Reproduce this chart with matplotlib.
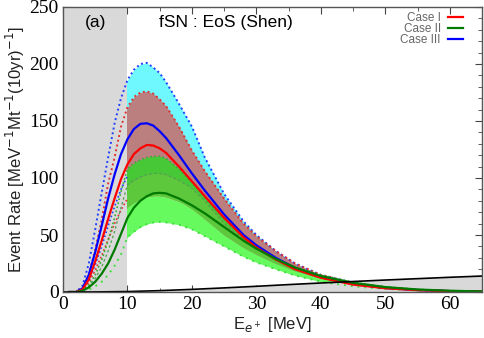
import numpy as np
import matplotlib
matplotlib.use("Agg")
import matplotlib.pyplot as plt
from matplotlib.ticker import MultipleLocator

# ---- data ----
E = [1, 2, 3, 4, 5, 6, 7, 8, 9, 10, 11, 12, 13, 14, 15, 16, 18, 20, 22, 25, 28,
     30, 33, 36, 40, 45, 50, 55, 60, 65]

case1 = [0, 0, 2, 11, 27, 45, 64, 82, 99, 112, 121, 126, 129, 128.5, 126, 122, 110, 97, 84, 65, 48,
         39, 28.5, 20, 12.5, 6.5, 3.3, 1.6, 0.8, 0.4]
case2 = [0, 0, 1, 4, 9, 16, 25, 37, 51, 65, 74, 80, 84, 86.5, 87, 86.5, 82, 76, 69, 57, 45,
         38, 29, 21.5, 14, 8, 4.3, 2.2, 1.1, 0.5]
case3 = [0, 0, 3, 15, 35, 58, 82, 103, 121, 134, 143, 147.5, 148, 146, 141, 135, 120, 104, 89, 68, 50,
         41, 30, 21, 13, 7, 3.5, 1.7, 0.8, 0.4]

case3_hi = [0, 0, 5, 25, 55, 87, 118, 148, 170, 186, 195, 200, 201, 197, 192, 184, 165, 145, 118, 86, 62,
            50, 36, 25, 15, 8, 4, 1.8, 0.8, 0.4]
case3_lo = [0, 0, 2, 10, 24, 40, 58, 75, 90, 102, 108, 111, 112, 111, 108, 104, 93, 82, 71, 55, 41,
            34, 25, 18, 11.5, 6.5, 3.3, 1.6, 0.8, 0.4]
case1_hi = [0, 0, 3, 15, 37, 63, 95, 118, 145, 162, 171, 175, 176, 174, 169, 163, 145, 124, 106, 82, 60,
            49, 36, 25, 15, 7.8, 3.9, 1.8, 0.8, 0.4]
case1_lo = [0, 0, 1.5, 8, 19, 32, 46, 60, 72, 82, 88, 92, 94, 94, 92, 89, 81, 72, 63, 49, 37,
            30, 22, 16, 10, 5.5, 2.8, 1.4, 0.7, 0.35]

case2_hi = [0, 0, 1, 6, 15, 28, 45, 65, 88, 108, 113, 116, 118, 119, 119, 117, 108, 96, 83, 64, 47.5,
            39, 29, 21.5, 15, 8.5, 4.5, 2.3, 1.2, 0.6]
case2_mid_hi = [0, 0, 1, 5, 12, 22, 36, 53, 74, 94, 98, 101, 103, 104, 104, 103, 98, 91, 80, 60, 46,
                38, 28.5, 21, 14.5, 8.3, 4.4, 2.3, 1.1, 0.55]
case2_mid_lo = [0, 0, 0.8, 4, 10, 18, 28, 41, 56, 74, 78, 81, 83, 84, 84, 83, 79, 73, 64, 50, 39,
                33, 25, 18.5, 12, 7, 3.8, 2.0, 1.0, 0.45]
case2_lo = [0, 0, 0.5, 2, 5, 9, 15, 23, 33, 48, 53, 57, 59.5, 61, 61.5, 61, 59, 55, 49, 40, 31,
            26, 20, 14.5, 9, 5, 2.8, 1.4, 0.7, 0.3]

bkg_E = [0, 5, 10, 15, 20, 25, 30, 35, 40, 45, 50, 55, 60, 65]
bkg = [0, 0.05, 0.4, 1.2, 2.3, 3.6, 5.0, 6.5, 7.9, 9.2, 10.5, 11.7, 12.9, 14.0]

legend_labels = ["Case I", "Case II", "Case III"]
title_text = "fSN : EoS (Shen)"
panel_text = "(a)"

# ---- figure ----
fig = plt.figure(figsize=(4.85, 3.38), dpi=100)
ax = fig.add_axes([63/485, 1-292/338, (482-63)/485, (292-7)/338])

E = np.array(E)
gray = "#d9d9d9"
low = E <= 10  # lower band edges only visible inside the shaded region

# bands
ax.fill_between(E, case3_lo, case3_hi, color="#70f8ff", lw=0, zorder=1)
ax.fill_between(E, case1_lo, case1_hi, color="#bb7f7f", lw=0, zorder=1.1)
ax.fill_between(E, case2_lo, case2_mid_lo, color="#66fa5f", lw=0, zorder=1.2)
ax.fill_between(E, case2_mid_lo, case2_mid_hi, color="#5ec83c", lw=0, zorder=1.3)
ax.fill_between(E, case2_mid_hi, case2_hi, color="#47c837", lw=0, zorder=1.4)

# shaded low-energy region
ax.axvspan(0, 10, color=gray, lw=0, zorder=2)
# background
ax.fill_between(bkg_E, 0, bkg, color=gray, lw=0, zorder=2)

# band edges
dot = (0, (1, 1.5))
ax.plot(E, case3_hi, color="#2040ff", ls=dot, lw=1.4, zorder=3)
ax.plot(E[low], np.array(case3_lo)[low], color="#2040ff", ls=dot, lw=1.2, zorder=3)
ax.plot(E, case1_hi, color="#e03030", ls=dot, lw=1.4, zorder=3)
ax.plot(E[low], np.array(case1_lo)[low], color="#e03030", ls=dot, lw=1.2, zorder=3)
ax.plot(E, case2_hi, color="#30b030", ls=dot, lw=1.2, zorder=3)
ax.plot(E, case2_mid_hi, color="#50a050", ls=(0, (2, 2)), lw=0.9, zorder=3)
ax.plot(E, case2_lo, color="#40e040", ls=(0, (1, 2.5)), lw=1.4, zorder=3)

# central lines
l3, = ax.plot(E, case3, color="#0000ff", lw=1.6, zorder=4)
l1, = ax.plot(E, case1, color="#ff0000", lw=1.6, zorder=4.1)
l2, = ax.plot(E, case2, color="#007a00", lw=1.6, zorder=4.2)
ax.plot(bkg_E, bkg, color="black", lw=1.2, zorder=4.5)

ax.set_xlim(0, 65)
ax.set_ylim(0, 250)

ax.xaxis.set_major_locator(MultipleLocator(10))
ax.xaxis.set_minor_locator(MultipleLocator(5))
ax.yaxis.set_major_locator(MultipleLocator(50))
ax.yaxis.set_minor_locator(MultipleLocator(10))
ax.tick_params(which="both", direction="in", top=True, right=True, color="#444444")
ax.tick_params(which="major", length=5, width=0.8)
ax.tick_params(which="minor", length=3, width=0.6)
for lab in ax.get_xticklabels() + ax.get_yticklabels():
    lab.set_fontfamily("Liberation Serif")
    lab.set_fontsize(14)
ax.tick_params(axis="x", pad=3)
ax.tick_params(axis="y", pad=3)
for s in ax.spines.values():
    s.set_color("#555555")
    s.set_linewidth(1.0)
    s.set_zorder(6)

ax.set_ylabel("Event Rate [MeV$^{-1}$Mt$^{-1}$(10yr)$^{-1}$]", fontsize=12,
              fontfamily="Liberation Sans", color="#222222", labelpad=2)
ax.set_xlabel("E$_{e^+}$ [MeV]", fontsize=12, fontfamily="Liberation Sans",
              color="#222222", labelpad=1)

ax.text(5, 236, panel_text, fontsize=12.5, fontfamily="Liberation Sans",
        ha="center", va="center", zorder=7)
ax.text(25.3, 236, title_text, fontsize=12.5, fontfamily="Liberation Sans",
        ha="center", va="center", zorder=7)

leg = ax.legend([l1, l2, l3], legend_labels, loc="upper right", markerfirst=False,
                frameon=False, handlelength=1.3, handletextpad=0.6,
                labelspacing=-0.1, borderaxespad=0.3, labelcolor="#666666",
                bbox_to_anchor=(0.975, 1.01),
                prop={"family": "Liberation Sans", "size": 8.5})
for h in leg.legend_handles:
    h.set_linewidth(1.6)
leg.set_zorder(8)

fig.savefig("out.png", dpi=100)
